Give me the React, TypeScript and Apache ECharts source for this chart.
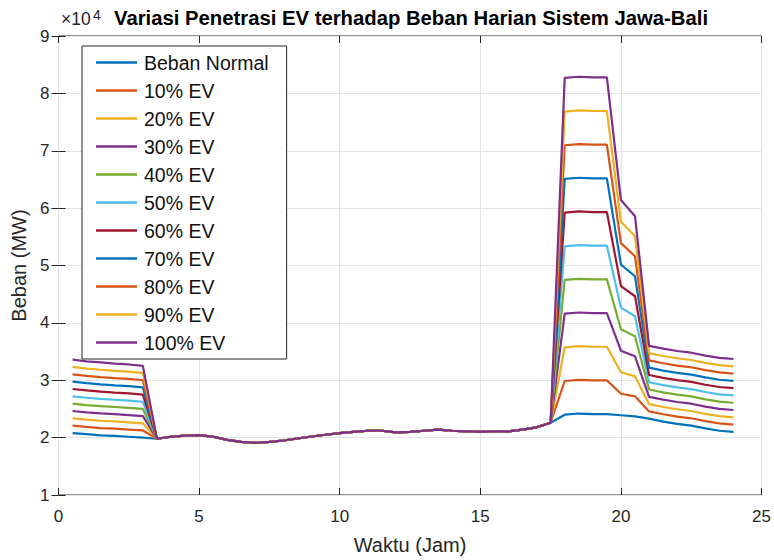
import React, { useEffect, useRef } from "react";
import * as echarts from "echarts";

const hours = [
  0.5, 1, 1.5, 2, 2.5, 3, 3.5, 4, 4.5, 5, 5.5, 6, 6.5, 7, 7.5, 8, 8.5, 9, 9.5, 10,
  10.5, 11, 11.5, 12, 12.5, 13, 13.5, 14, 14.5, 15, 15.5, 16, 16.5, 17, 17.5, 18,
  18.5, 19, 19.5, 20, 20.5, 21, 21.5, 22, 22.5, 23, 23.5, 24,
];

const bebanNormal = [
  20800, 20600, 20400, 20300, 20150, 20000,
  19800, 20150, 20350, 20450, 20150, 19600, 19250, 19100, 19250, 19500, 19850, 20200, 20500, 20800, 21000, 21200, 21200, 20900, 21000, 21200, 21400, 21200, 21100, 21000, 21100, 21100, 21400, 21800, 22600,
  24000, 24200, 24100, 24100, 23900, 23700, 23300, 22800, 22400, 22100, 21600, 21200, 21000,
];
const ev10 = [
  22080, 21870, 21670, 21560, 21410, 21250,
  19800, 20150, 20350, 20450, 20150, 19600, 19250, 19100, 19250, 19500, 19850, 20200, 20500, 20800, 21000, 21200, 21200, 20900, 21000, 21200, 21400, 21200, 21100, 21000, 21100, 21100, 21400, 21800, 22600,
  29870, 30070, 29970, 29970, 27650, 27190, 24570, 24070, 23670, 23370, 22870, 22470, 22270,
];
const ev20 = [
  23360, 23140, 22940, 22820, 22670, 22500,
  19800, 20150, 20350, 20450, 20150, 19600, 19250, 19100, 19250, 19500, 19850, 20200, 20500, 20800, 21000, 21200, 21200, 20900, 21000, 21200, 21400, 21200, 21100, 21000, 21100, 21100, 21400, 21800, 22600,
  35740, 35940, 35840, 35840, 31400, 30680, 25840, 25340, 24940, 24640, 24140, 23740, 23540,
];
const ev30 = [
  24640, 24410, 24210, 24080, 23930, 23750,
  19800, 20150, 20350, 20450, 20150, 19600, 19250, 19100, 19250, 19500, 19850, 20200, 20500, 20800, 21000, 21200, 21200, 20900, 21000, 21200, 21400, 21200, 21100, 21000, 21100, 21100, 21400, 21800, 22600,
  41610, 41810, 41710, 41710, 35150, 34170, 27110, 26610, 26210, 25910, 25410, 25010, 24810,
];
const ev40 = [
  25920, 25680, 25480, 25340, 25190, 25000,
  19800, 20150, 20350, 20450, 20150, 19600, 19250, 19100, 19250, 19500, 19850, 20200, 20500, 20800, 21000, 21200, 21200, 20900, 21000, 21200, 21400, 21200, 21100, 21000, 21100, 21100, 21400, 21800, 22600,
  47480, 47680, 47580, 47580, 38900, 37660, 28380, 27880, 27480, 27180, 26680, 26280, 26080,
];
const ev50 = [
  27200, 26950, 26750, 26600, 26450, 26250,
  19800, 20150, 20350, 20450, 20150, 19600, 19250, 19100, 19250, 19500, 19850, 20200, 20500, 20800, 21000, 21200, 21200, 20900, 21000, 21200, 21400, 21200, 21100, 21000, 21100, 21100, 21400, 21800, 22600,
  53350, 53550, 53450, 53450, 42650, 41150, 29650, 29150, 28750, 28450, 27950, 27550, 27350,
];
const ev60 = [
  28480, 28220, 28020, 27860, 27710, 27500,
  19800, 20150, 20350, 20450, 20150, 19600, 19250, 19100, 19250, 19500, 19850, 20200, 20500, 20800, 21000, 21200, 21200, 20900, 21000, 21200, 21400, 21200, 21100, 21000, 21100, 21100, 21400, 21800, 22600,
  59220, 59420, 59320, 59320, 46400, 44640, 30920, 30420, 30020, 29720, 29220, 28820, 28620,
];
const ev70 = [
  29760, 29490, 29290, 29120, 28970, 28750,
  19800, 20150, 20350, 20450, 20150, 19600, 19250, 19100, 19250, 19500, 19850, 20200, 20500, 20800, 21000, 21200, 21200, 20900, 21000, 21200, 21400, 21200, 21100, 21000, 21100, 21100, 21400, 21800, 22600,
  65090, 65290, 65190, 65190, 50150, 48130, 32190, 31690, 31290, 30990, 30490, 30090, 29890,
];
const ev80 = [
  31040, 30760, 30560, 30380, 30230, 30000,
  19800, 20150, 20350, 20450, 20150, 19600, 19250, 19100, 19250, 19500, 19850, 20200, 20500, 20800, 21000, 21200, 21200, 20900, 21000, 21200, 21400, 21200, 21100, 21000, 21100, 21100, 21400, 21800, 22600,
  70960, 71160, 71060, 71060, 53900, 51620, 33460, 32960, 32560, 32260, 31760, 31360, 31160,
];
const ev90 = [
  32320, 32030, 31830, 31640, 31490, 31250,
  19800, 20150, 20350, 20450, 20150, 19600, 19250, 19100, 19250, 19500, 19850, 20200, 20500, 20800, 21000, 21200, 21200, 20900, 21000, 21200, 21400, 21200, 21100, 21000, 21100, 21100, 21400, 21800, 22600,
  76830, 77030, 76930, 76930, 57650, 55110, 34730, 34230, 33830, 33530, 33030, 32630, 32430,
];
const ev100 = [
  33600, 33300, 33100, 32900, 32750, 32500,
  19800, 20150, 20350, 20450, 20150, 19600, 19250, 19100, 19250, 19500, 19850, 20200, 20500, 20800, 21000, 21200, 21200, 20900, 21000, 21200, 21400, 21200, 21100, 21000, 21100, 21100, 21400, 21800, 22600,
  82700, 82900, 82800, 82800, 61400, 58600, 36000, 35500, 35100, 34800, 34300, 33900, 33700,
];

const seriesNames = [
  "Beban Normal", "10% EV", "20% EV", "30% EV", "40% EV", "50% EV",
  "60% EV", "70% EV", "80% EV", "90% EV", "100% EV",
];
const seriesValues = [bebanNormal, ev10, ev20, ev30, ev40, ev50, ev60, ev70, ev80, ev90, ev100];
const seriesColors = [
  "#0072BD", "#D95319", "#EDB120", "#7E2F8E", "#77AC30", "#4DBEEE",
  "#A2142F", "#0072BD", "#D95319", "#EDB120", "#7E2F8E",
];

const FONT = "'Liberation Sans', Arial, Helvetica, sans-serif";
const AXIS_COLOR = "#262626";

export default function App() {
  const ref = useRef<HTMLDivElement>(null);

  useEffect(() => {
    if (!ref.current) return;
    const chart = echarts.init(ref.current, undefined, { renderer: "svg" });

    const tickStyle = { inside: true, length: 7, lineStyle: { color: AXIS_COLOR, width: 1 } };

    const option: any = {
      animation: false,
      backgroundColor: "#ffffff",
      grid: {
        left: 58.5,
        right: 11,
        top: 36,
        bottom: 58,
        show: true,
        borderColor: AXIS_COLOR,
        borderWidth: 1,
        backgroundColor: "#ffffff",
        containLabel: false,
      },
      xAxis: [
        {
          type: "value",
          min: 0,
          max: 25,
          interval: 5,
          position: "bottom",
          name: "Waktu (Jam)",
          nameLocation: "middle",
          nameGap: 40,
          nameTextStyle: { fontFamily: FONT, fontSize: 20, color: AXIS_COLOR },
          axisLine: { show: false },
          axisTick: tickStyle,
          axisLabel: { fontFamily: FONT, fontSize: 17, color: AXIS_COLOR, margin: 13 },
          splitLine: { show: true, lineStyle: { color: "#e4e4e4", width: 1 } },
        },
        {
          type: "value",
          min: 0,
          max: 25,
          interval: 5,
          position: "top",
          axisLine: { show: false },
          axisTick: tickStyle,
          axisLabel: { show: false },
          splitLine: { show: false },
        },
      ],
      yAxis: [
        {
          type: "value",
          min: 10000,
          max: 90000,
          interval: 10000,
          position: "left",
          name: "Beban (MW)",
          nameLocation: "middle",
          nameGap: 30,
          nameTextStyle: { fontFamily: FONT, fontSize: 20, color: AXIS_COLOR },
          axisLine: { show: false },
          axisTick: tickStyle,
          axisLabel: {
            fontFamily: FONT,
            fontSize: 17,
            color: AXIS_COLOR,
            margin: 9,
            formatter: (v: number) => String(Math.round(v / 10000)),
          },
          splitLine: { show: true, lineStyle: { color: "#e4e4e4", width: 1 } },
        },
        {
          type: "value",
          min: 10000,
          max: 90000,
          interval: 10000,
          position: "right",
          axisLine: { show: false },
          axisTick: tickStyle,
          axisLabel: { show: false },
          splitLine: { show: false },
        },
      ],
      legend: {
        orient: "vertical",
        left: 82,
        top: 46,
        padding: [6.5, 18, 6.5, 14],
        itemGap: 8,
        itemWidth: 41,
        itemHeight: 2.5,
        icon: "rect",
        backgroundColor: "#ffffff",
        borderColor: AXIS_COLOR,
        borderWidth: 1,
        borderRadius: 0,
        selectedMode: false,
        textStyle: { fontFamily: FONT, fontSize: 19.5, color: "#111111", lineHeight: 20, padding: [0, 0, 0, 2] },
        data: seriesNames,
      },
      graphic: [
        {
          type: "text",
          x: 411,
          y: 18,
          style: {
            text: "Variasi Penetrasi EV terhadap Beban Harian Sistem Jawa-Bali",
            font: `bold 20.3px ${FONT}`,
            fill: "#000000",
            align: "center",
            verticalAlign: "middle",
            textAlign: "center",
            textVerticalAlign: "middle",
          },
        },
        {
          type: "text",
          x: 61,
          y: 19,
          style: {
            text: "×10",
            font: `17.5px ${FONT}`,
            fill: AXIS_COLOR,
            align: "left",
            verticalAlign: "middle",
            textAlign: "left",
            textVerticalAlign: "middle",
          },
        },
        {
          type: "text",
          x: 93,
          y: 15,
          style: {
            text: "4",
            font: `14px ${FONT}`,
            fill: AXIS_COLOR,
            align: "left",
            verticalAlign: "middle",
            textAlign: "left",
            textVerticalAlign: "middle",
          },
        },
      ],
      series: seriesNames.map((name, i) => ({
        name,
        type: "line",
        xAxisIndex: 0,
        yAxisIndex: 0,
        symbol: "none",
        showSymbol: false,
        smooth: false,
        color: seriesColors[i],
        lineStyle: { color: seriesColors[i], width: 2.2 },
        emphasis: { disabled: true },
        data: hours.map((h, j) => [h, seriesValues[i][j]]),
      })),
    };

    chart.setOption(option);
    return () => {
      chart.dispose();
    };
  }, []);

  return (
    <div
      ref={ref}
      style={{ position: "absolute", left: 0, top: 0, width: 774, height: 560, background: "#ffffff" }}
    />
  );
}
